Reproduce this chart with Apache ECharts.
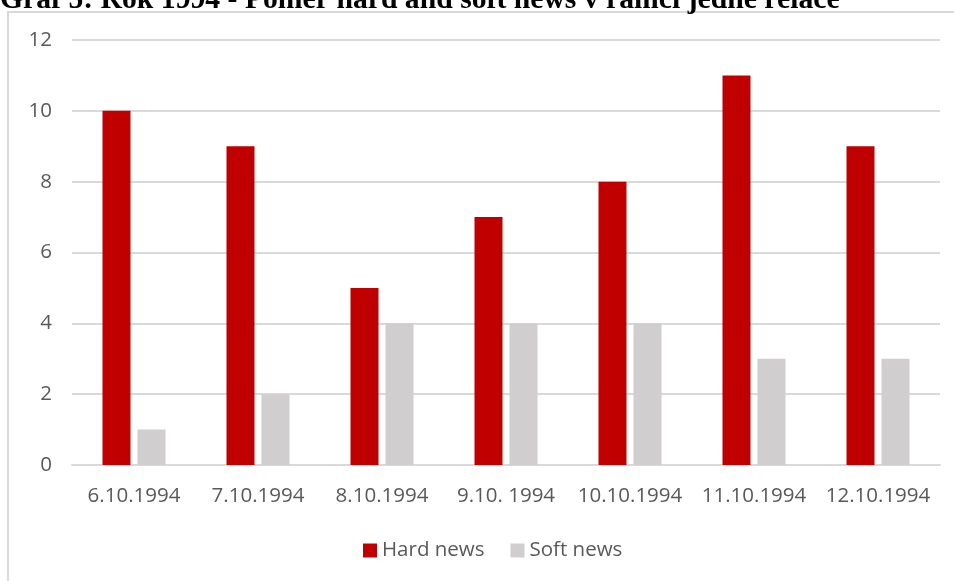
<!DOCTYPE html>
<html>
<head>
<meta charset="utf-8">
<script src="https://cdn.jsdelivr.net/npm/echarts@6/dist/echarts.min.js"></script>
<style>
html, body { margin: 0; padding: 0; background: #fff; }
#chart { width: 954px; height: 581px; }
</style>
</head>
<body>
<div id="chart"></div>
<script>
var categories = ['6.10.1994', '7.10.1994', '8.10.1994', '9.10. 1994', '10.10.1994', '11.10.1994', '12.10.1994'];
var hardNews = [10, 9, 5, 7, 8, 11, 9];
var softNews = [1, 2, 4, 4, 4, 3, 3];
var yTicks = { min: 0, max: 12, interval: 2 };

var labelFont = '"Open Sans", "Noto Sans", sans-serif';
var myChart = echarts.init(document.getElementById('chart'));
var option = {
    animation: false,
    backgroundColor: '#fff',
    graphic: [
        {
            type: 'rect',
            shape: { x: 8, y: 12, width: 1000, height: 700 },
            style: { fill: 'none', stroke: '#d9d9d9', lineWidth: 2 },
            z: -1
        },
        {
            type: 'text',
            left: 0,
            top: -15,
            style: {
                text: 'Graf 5: Rok 1994 - Poměr hard and soft news v rámci jedné relace',
                font: 'bold 29.7px "Liberation Serif", serif',
                fill: '#000'
            }
        }
    ],
    grid: {
        left: 72,
        right: 14,
        top: 40,
        bottom: 116
    },
    legend: {
        bottom: 15,
        left: 358,
        itemWidth: 14,
        itemHeight: 14,
        itemGap: 26,
        icon: 'rect',
        textStyle: { color: '#595959', fontSize: 20.5, fontFamily: labelFont }
    },
    xAxis: {
        type: 'category',
        data: categories,
        axisLine: { lineStyle: { color: '#d9d9d9', width: 2 } },
        axisTick: { show: false },
        axisLabel: { color: '#595959', fontSize: 20.5, fontFamily: labelFont, margin: 21, interval: 0 }
    },
    yAxis: {
        type: 'value',
        min: yTicks.min,
        max: yTicks.max,
        interval: yTicks.interval,
        axisLine: { show: false },
        axisTick: { show: false },
        splitLine: { lineStyle: { color: '#d9d9d9', width: 2 } },
        axisLabel: { color: '#595959', fontSize: 20.5, fontFamily: labelFont, margin: 20 }
    },
    series: [
        {
            name: 'Hard news',
            type: 'bar',
            data: hardNews,
            barWidth: 28,
            barGap: '25%',
            itemStyle: { color: '#c00000' }
        },
        {
            name: 'Soft news',
            type: 'bar',
            data: softNews,
            barWidth: 28,
            itemStyle: { color: '#d0cece' }
        }
    ]
};
myChart.setOption(option);
</script>
</body>
</html>
